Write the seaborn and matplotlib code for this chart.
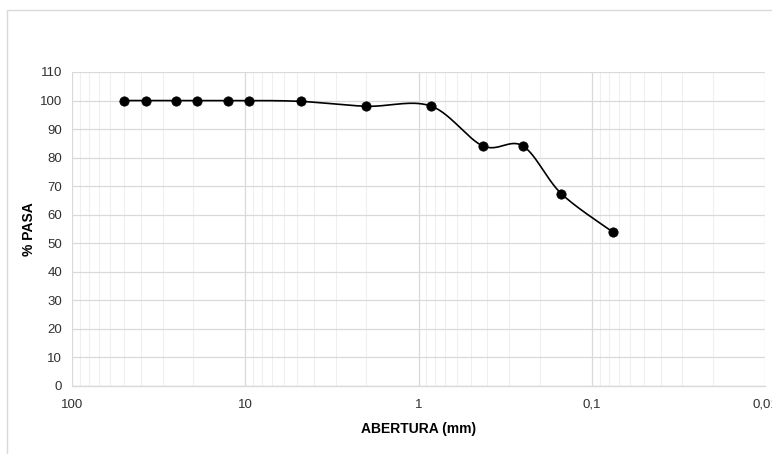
import numpy as np
import pandas as pd
import matplotlib
matplotlib.use('Agg')
import matplotlib.pyplot as plt
import seaborn as sns
from matplotlib.ticker import FixedLocator, LogLocator, NullFormatter

# sieve openings (mm) and percent passing
abertura = [50, 37.5, 25, 19, 12.5, 9.5, 4.75, 2.0, 0.85, 0.425, 0.25, 0.15, 0.075]
pasa = [100, 100, 100, 100, 100, 100, 99.7, 98.0, 98.1, 84.1, 84.1, 67.4, 53.8]
x_ticks = [100, 10, 1, 0.1, 0.01]
x_tick_labels = ['100', '10', '1', '0,1', '0,01']

df = pd.DataFrame({'abertura': abertura, 'pasa': pasa})


def smooth(xs, ys, n=30):
    # excel-like smoothed line: catmull-rom through the points in log-x space
    lx = np.log10(np.asarray(xs, float))
    y = np.asarray(ys, float)
    P = np.column_stack([lx, y])
    P = np.vstack([P[0], P, P[-1]])
    out = []
    t = np.linspace(0, 1, n)[:, None]
    for i in range(1, len(P) - 2):
        p0, p1, p2, p3 = P[i - 1], P[i], P[i + 1], P[i + 2]
        seg = 0.5 * ((2 * p1) + (-p0 + p2) * t + (2 * p0 - 5 * p1 + 4 * p2 - p3) * t ** 2
                     + (-p0 + 3 * p1 - 3 * p2 + p3) * t ** 3)
        out.append(seg)
    out = np.vstack(out)
    return 10 ** out[:, 0], out[:, 1]


sx, sy = smooth(abertura, pasa)
curve = pd.DataFrame({'abertura': sx, 'pasa': sy})

sns.set_theme(style='white')
plt.rcParams['font.family'] = ['Liberation Sans', 'DejaVu Sans']

fig = plt.figure(figsize=(7.72, 4.54), dpi=100)
ax = fig.add_axes([72 / 772, 1 - 386 / 454, (765 - 72) / 772, (386 - 72) / 454])

sns.lineplot(data=curve, x='abertura', y='pasa', ax=ax, color='black', linewidth=1.2,
             sort=False, estimator=None)
sns.scatterplot(data=df, x='abertura', y='pasa', ax=ax, color='black', s=45,
                edgecolor='black', zorder=5)

ax.set_xscale('log')
ax.set_xlim(100, 0.01)
ax.set_ylim(0, 110)
ax.set_yticks(range(0, 111, 10))
ax.xaxis.set_major_locator(FixedLocator(x_ticks))
ax.set_xticklabels(x_tick_labels)
ax.xaxis.set_minor_locator(LogLocator(base=10, subs=np.arange(2, 10)))
ax.xaxis.set_minor_formatter(NullFormatter())

ax.grid(which='major', axis='both', color='#d9d9d9', linewidth=0.9)
ax.grid(which='minor', axis='x', color='#efefef', linewidth=0.8)
ax.set_axisbelow(True)

for s in ['top', 'right', 'left']:
    ax.spines[s].set_visible(False)
ax.spines['bottom'].set_color('#d9d9d9')
ax.spines['bottom'].set_linewidth(1.0)

ax.tick_params(axis='both', which='both', length=0, labelsize=9.5, colors='#303030')
ax.tick_params(axis='x', pad=9)
ax.tick_params(axis='y', pad=7)
ax.set_xlabel('ABERTURA (mm)', fontsize=10, fontweight='bold', color='black', labelpad=8)
ax.set_ylabel('% PASA', fontsize=10, fontweight='bold', color='black', labelpad=3)

# chart area border
fig.patches.append(plt.Rectangle((7 / 772, -0.01), 1.02, 1 - 10 / 454 + 0.01,
                                 transform=fig.transFigure, fill=False,
                                 edgecolor='#d9d9d9', linewidth=1.0))

fig.savefig('out.png', dpi=100)
